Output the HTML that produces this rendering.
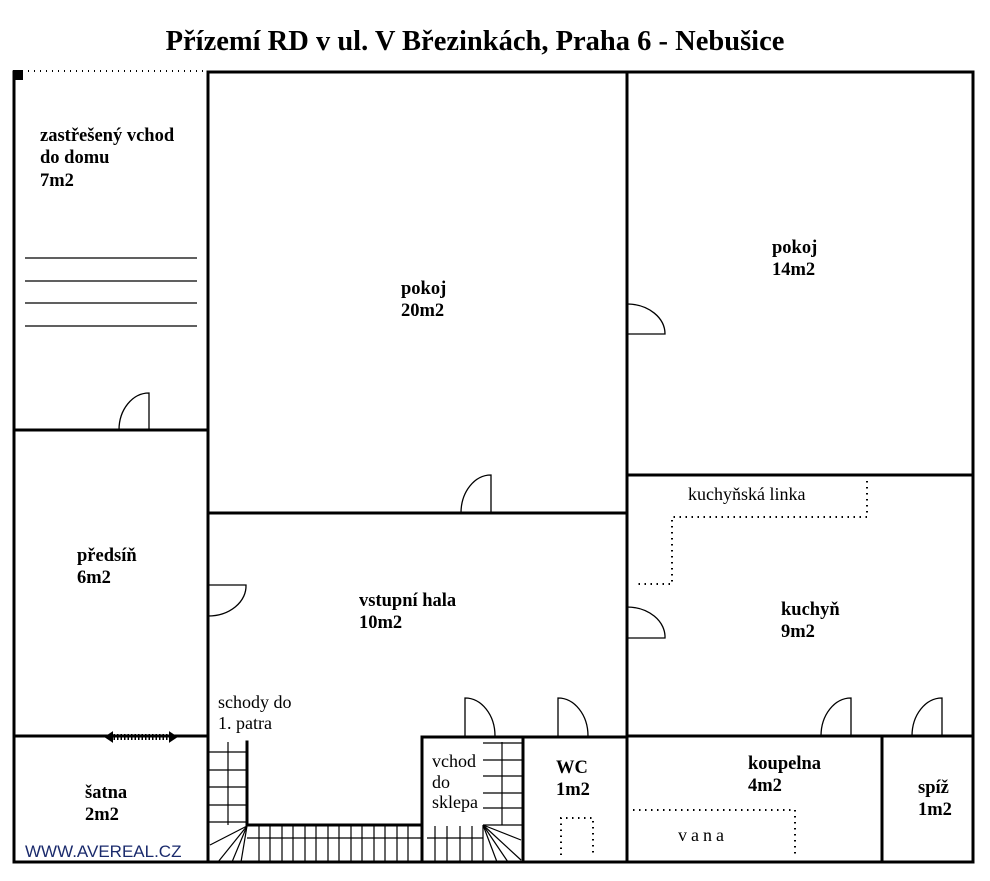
<!DOCTYPE html>
<html><head><meta charset="utf-8"><style>
html,body{margin:0;padding:0;background:#fff;}
svg{display:block;}
text{font-family:"Liberation Serif",serif;fill:#000;}
.b{font-weight:bold;font-size:18.5px;}
.n{font-size:18px;}
</style></head><body>
<svg width="990" height="881" viewBox="0 0 990 881" xmlns="http://www.w3.org/2000/svg">
<rect width="990" height="881" fill="#fff"/>
<text x="475" y="50" text-anchor="middle" style="font-weight:bold;font-size:28.5px">Přízemí RD v ul. V Březinkách, Praha 6 - Nebušice</text>
<g stroke="#000" stroke-width="3" fill="none" stroke-linecap="square">
<line x1="208" y1="72" x2="973" y2="72"/>
<line x1="14" y1="72" x2="14" y2="862"/>
<line x1="973" y1="72" x2="973" y2="862"/>
<line x1="14" y1="862" x2="973" y2="862"/>
<line x1="208" y1="72" x2="208" y2="862"/>
<line x1="14" y1="430" x2="208" y2="430"/>
<line x1="14" y1="736" x2="208" y2="736"/>
<line x1="627" y1="72" x2="627" y2="862"/>
<line x1="208" y1="513" x2="627" y2="513"/>
<line x1="627" y1="475" x2="973" y2="475"/>
<line x1="627" y1="736" x2="973" y2="736"/>
<line x1="882" y1="736" x2="882" y2="862"/>
<line x1="422" y1="737" x2="627" y2="737"/>
<line x1="422" y1="737" x2="422" y2="862"/>
<line x1="523" y1="737" x2="523" y2="862"/>
<line x1="247" y1="742" x2="247" y2="825"/>
<line x1="247" y1="825" x2="422" y2="825"/>
</g>
<rect x="13" y="70" width="10" height="10" fill="#000"/>
<line x1="28" y1="71" x2="206" y2="71" stroke="#000" stroke-width="2" stroke-dasharray="1,5"/>
<g stroke="#000" stroke-width="1.3">
<line x1="25" y1="258" x2="197" y2="258"/><line x1="25" y1="281" x2="197" y2="281"/>
<line x1="25" y1="303" x2="197" y2="303"/><line x1="25" y1="326" x2="197" y2="326"/>
</g>
<g stroke="#000" stroke-width="1.3" fill="none">
<path d="M149,430 V393 A30,37 0 0 0 119,430"/>
<path d="M491,513 V475 A30,38 0 0 0 461,513"/>
<path d="M627,304 H628 A38,30 0 0 1 665,334 H627"/>
<path d="M627,607 A38,30 0 0 1 665,638 H627"/>
<path d="M208,585 H246 A38,30 0 0 1 208,616"/>
<path d="M465,736 V698 A30,38 0 0 1 495,736"/>
<path d="M558,736 V698 A30,38 0 0 1 588,736"/>
<path d="M851,736 V698 A30,38 0 0 0 821,736"/>
<path d="M942,736 V698 A30,38 0 0 0 912,736"/>
</g>
<g stroke="#000" stroke-width="2">
<line x1="110" y1="737" x2="172" y2="737" stroke-width="6" stroke-dasharray="1.5,2"/>
<path d="M106,737 l6,-4 v8z M176,737 l-6,-4 v8z" fill="#000"/>
</g>
<g stroke="#000" stroke-width="1.2" fill="none">
<line x1="228" y1="742" x2="228" y2="825"/>
<line x1="208" y1="752" x2="247" y2="752"/><line x1="208" y1="770" x2="247" y2="770"/>
<line x1="208" y1="787" x2="247" y2="787"/><line x1="208" y1="805" x2="247" y2="805"/>
<line x1="208" y1="822" x2="247" y2="822"/>
<line x1="247" y1="826" x2="210" y2="845"/><line x1="247" y1="826" x2="218" y2="862"/>
<line x1="247" y1="826" x2="232" y2="862"/><line x1="247" y1="826" x2="241" y2="862"/>
<line x1="259" y1="826" x2="259" y2="862"/><line x1="270" y1="826" x2="270" y2="862"/>
<line x1="282" y1="826" x2="282" y2="862"/><line x1="293" y1="826" x2="293" y2="862"/>
<line x1="305" y1="826" x2="305" y2="862"/><line x1="316" y1="826" x2="316" y2="862"/>
<line x1="328" y1="826" x2="328" y2="862"/><line x1="339" y1="826" x2="339" y2="862"/>
<line x1="351" y1="826" x2="351" y2="862"/><line x1="362" y1="826" x2="362" y2="862"/>
<line x1="374" y1="826" x2="374" y2="862"/><line x1="385" y1="826" x2="385" y2="862"/>
<line x1="397" y1="826" x2="397" y2="862"/><line x1="408" y1="826" x2="408" y2="862"/>
<line x1="247" y1="838" x2="422" y2="838"/>
<line x1="502" y1="742" x2="502" y2="825"/>
<line x1="483" y1="743" x2="522" y2="743"/><line x1="483" y1="760" x2="522" y2="760"/>
<line x1="483" y1="776" x2="522" y2="776"/><line x1="483" y1="793" x2="522" y2="793"/>
<line x1="483" y1="808" x2="522" y2="808"/><line x1="483" y1="825" x2="522" y2="825"/>
<line x1="435" y1="826" x2="435" y2="862"/><line x1="447" y1="826" x2="447" y2="862"/>
<line x1="460" y1="826" x2="460" y2="862"/><line x1="472" y1="826" x2="472" y2="862"/>
<line x1="483" y1="825" x2="483" y2="862"/>
<line x1="427" y1="838" x2="483" y2="838"/>
<line x1="483" y1="825" x2="521" y2="840"/><line x1="483" y1="825" x2="521" y2="860"/>
<line x1="483" y1="825" x2="508" y2="862"/><line x1="483" y1="825" x2="497" y2="862"/>
</g>
<g stroke="#000" stroke-width="2" fill="none" stroke-dasharray="1.5,4.5">
<polyline points="867,481 867,517 672,517 672,584 635,584"/>
<polyline points="633,810 795,810 795,855"/>
<polyline points="561,855 561,818 593,818 593,855"/>
</g>
<text class="b" x="40" y="141">zastřešený vchod</text>
<text class="b" x="40" y="163">do domu</text>
<text class="b" x="40" y="186">7m2</text>
<text class="b" x="401" y="294">pokoj</text>
<text class="b" x="401" y="316">20m2</text>
<text class="b" x="772" y="253">pokoj</text>
<text class="b" x="772" y="275">14m2</text>
<text class="n" x="688" y="500">kuchyňská linka</text>
<text class="b" x="781" y="615">kuchyň</text>
<text class="b" x="781" y="637">9m2</text>
<text class="b" x="77" y="561">předsíň</text>
<text class="b" x="77" y="583">6m2</text>
<text class="b" x="359" y="606">vstupní hala</text>
<text class="b" x="359" y="628">10m2</text>
<text class="n" x="218" y="708">schody do</text>
<text class="n" x="218" y="729">1. patra</text>
<text class="b" x="85" y="798">šatna</text>
<text class="b" x="85" y="820">2m2</text>
<text class="n" x="432" y="767">vchod</text>
<text class="n" x="432" y="788">do</text>
<text class="n" x="432" y="808">sklepa</text>
<text class="b" x="556" y="773">WC</text>
<text class="b" x="556" y="795">1m2</text>
<text class="b" x="748" y="769">koupelna</text>
<text class="b" x="748" y="791">4m2</text>
<text class="n" x="678" y="841" style="letter-spacing:4px">vana</text>
<text class="b" x="918" y="793">spíž</text>
<text class="b" x="918" y="815">1m2</text>
<text x="25" y="857" style="font-family:'Liberation Sans',sans-serif;font-size:17px;fill:#1a2a6c">WWW.AVEREAL.CZ</text>
</svg>
</body></html>
